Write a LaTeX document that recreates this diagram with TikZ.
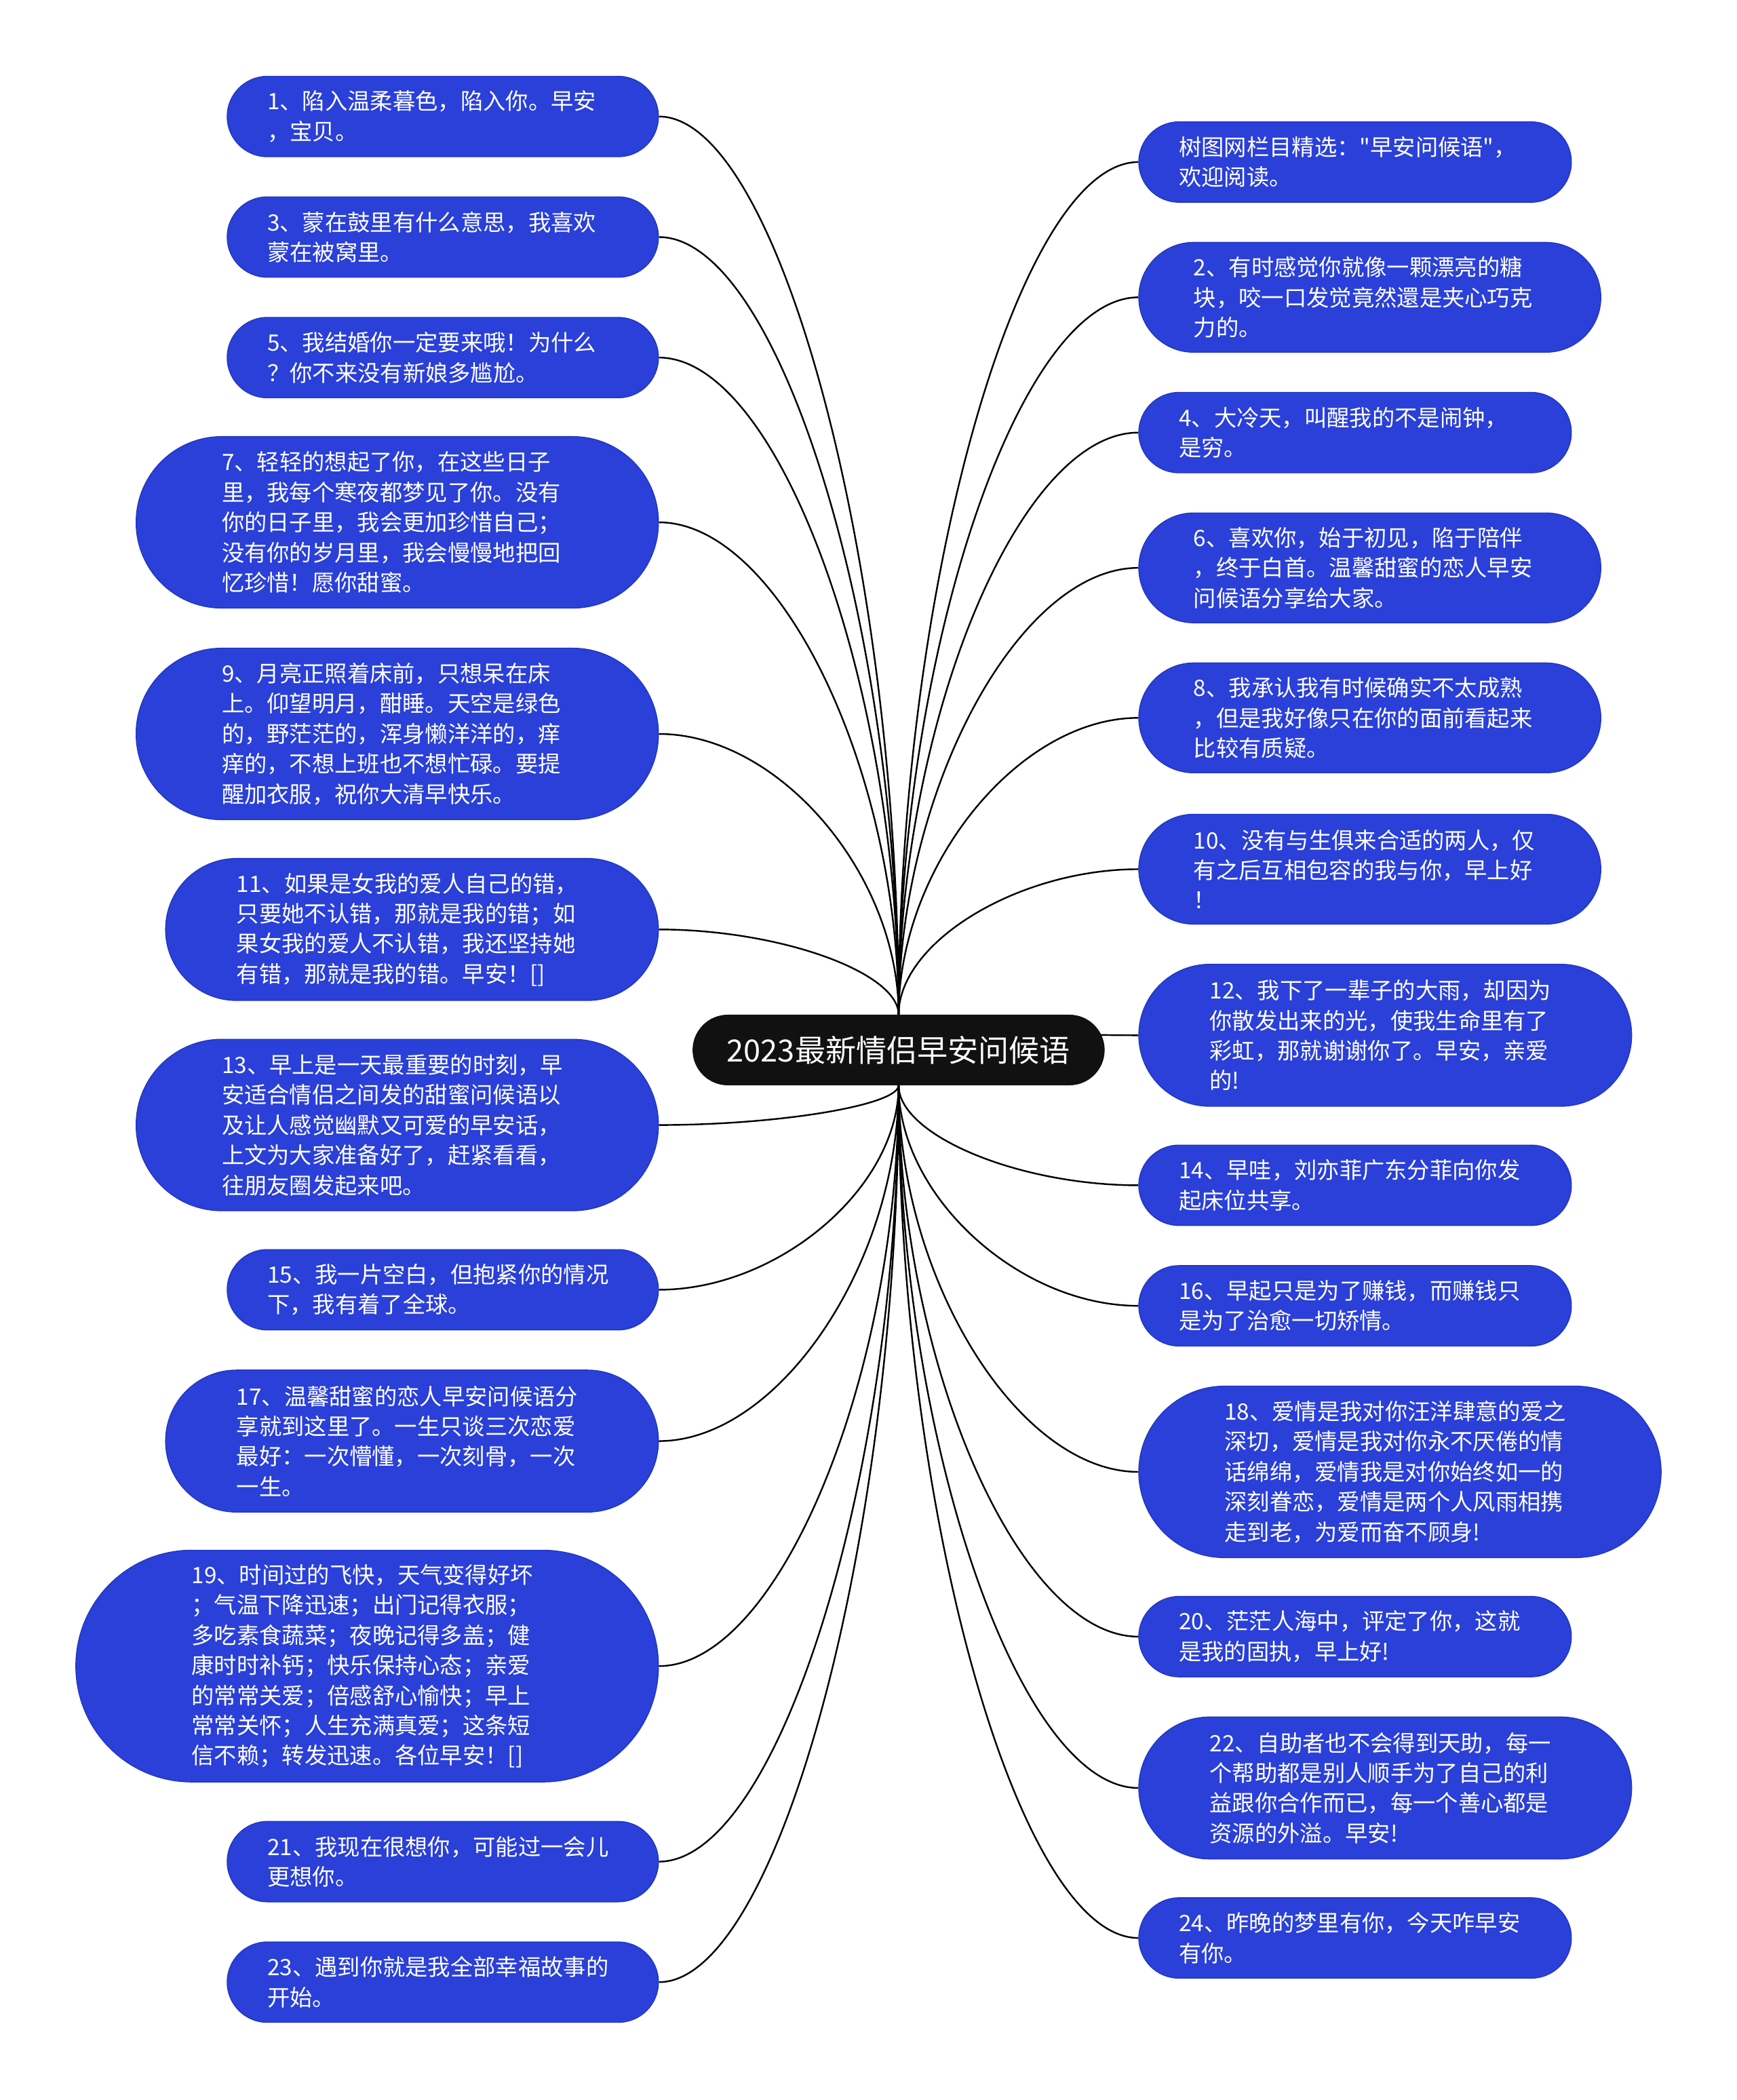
\documentclass[tikz,border=0pt]{standalone}
\usepackage{fontspec}
\usepackage{xcolor}
\usetikzlibrary{backgrounds,calc}
\newfontfamily\cjk{Noto Sans CJK SC}
\definecolor{msgblue}{HTML}{2A40D8}
\definecolor{msgedge}{HTML}{2035C4}
\definecolor{topicblack}{HTML}{111111}
\newcommand{\msgfont}{\cjk\fontsize{9.6}{12.8}\selectfont}
\newcommand{\topicfont}{\cjk\fontsize{13}{15}\selectfont}

\tikzset{
  msg/.style 2 args={fill=msgblue, draw=msgedge, line width=0.4pt, text=white,
    align=left, inner ysep=0pt, inner xsep=#2*0.01cm, font=\msgfont,
    text width=(#1-#2)*0.02cm,
    minimum width=#1*0.02cm, minimum height=#2*0.02cm, rounded corners=#2*0.01cm},
  topic/.style={fill=topicblack, draw=topicblack, text=white, inner sep=0pt,
    font=\topicfont, minimum width=307*0.02cm, minimum height=52*0.02cm,
    rounded corners=26*0.02cm},
  link/.style={draw=black, line width=0.7pt}
}

\begin{document}
\begin{tikzpicture}[x=0.02cm,y=-0.02cm]
\useasboundingbox (0,0) rectangle (1297,1568);
% Central topic
\node[topic] (root) at (671,784) {2023最新情侣早安问候语};
% Left column
\node[msg={322}{60}, anchor=east] (l1) at (492,87) {1、陷入温柔暮色，陷入你。早安\\，宝贝。};
\node[msg={322}{60}, anchor=east] (l3) at (492,177) {3、蒙在鼓里有什么意思，我喜欢\\蒙在被窝里。};
\node[msg={322}{60}, anchor=east] (l5) at (492,267) {5、我结婚你一定要来哦！为什么\\？你不来没有新娘多尴尬。};
\node[msg={390}{128}, anchor=east] (l7) at (492,390) {7、轻轻的想起了你，在这些日子\\里，我每个寒夜都梦见了你。没有\\你的日子里，我会更加珍惜自己；\\没有你的岁月里，我会慢慢地把回\\忆珍惜！愿你甜蜜。};
\node[msg={390}{128}, anchor=east] (l9) at (492,548) {9、月亮正照着床前，只想呆在床\\上。仰望明月，酣睡。天空是绿色\\的，野茫茫的，浑身懒洋洋的，痒\\痒的，不想上班也不想忙碌。要提\\醒加衣服，祝你大清早快乐。};
\node[msg={368}{106}, anchor=east] (l11) at (492,694) {11、如果是女我的爱人自己的错，\\只要她不认错，那就是我的错；如\\果女我的爱人不认错，我还坚持她\\有错，那就是我的错。早安！[]};
\node[msg={390}{128}, anchor=east] (l13) at (492,840) {13、早上是一天最重要的时刻，早\\安适合情侣之间发的甜蜜问候语以\\及让人感觉幽默又可爱的早安话，\\上文为大家准备好了，赶紧看看，\\往朋友圈发起来吧。};
\node[msg={322}{60}, anchor=east] (l15) at (492,963) {15、我一片空白，但抱紧你的情况\\下，我有着了全球。};
\node[msg={368}{106}, anchor=east] (l17) at (492,1076) {17、温馨甜蜜的恋人早安问候语分\\享就到这里了。一生只谈三次恋爱\\最好：一次懵懂，一次刻骨，一次\\一生。};
\node[msg={435}{173}, anchor=east] (l19) at (492,1244) {19、时间过的飞快，天气变得好坏\\；气温下降迅速；出门记得衣服；\\多吃素食蔬菜；夜晚记得多盖；健\\康时时补钙；快乐保持心态；亲爱\\的常常关爱；倍感舒心愉快；早上\\常常关怀；人生充满真爱；这条短\\信不赖；转发迅速。各位早安！[]};
\node[msg={322}{60}, anchor=east] (l21) at (492,1390) {21、我现在很想你，可能过一会儿\\更想你。};
\node[msg={322}{60}, anchor=east] (l23) at (492,1480) {23、遇到你就是我全部幸福故事的\\开始。};
% Right column
\node[msg={323}{60}, anchor=west] (r0) at (850,121) {树图网栏目精选："早安问候语"，\\欢迎阅读。};
\node[msg={345}{82}, anchor=west] (r2) at (850,222) {2、有时感觉你就像一颗漂亮的糖\\块，咬一口发觉竟然還是夹心巧克\\力的。};
\node[msg={323}{60}, anchor=west] (r4) at (850,323) {4、大冷天，叫醒我的不是闹钟，\\是穷。};
\node[msg={345}{82}, anchor=west] (r6) at (850,424) {6、喜欢你，始于初见，陷于陪伴\\，终于白首。温馨甜蜜的恋人早安\\问候语分享给大家。};
\node[msg={345}{82}, anchor=west] (r8) at (850,536) {8、我承认我有时候确实不太成熟\\，但是我好像只在你的面前看起来\\比较有质疑。};
\node[msg={345}{82}, anchor=west] (r10) at (850,649) {10、没有与生俱来合适的两人，仅\\有之后互相包容的我与你，早上好\\！};
\node[msg={368}{106}, anchor=west] (r12) at (850,773) {12、我下了一辈子的大雨，却因为\\你散发出来的光，使我生命里有了\\彩虹，那就谢谢你了。早安，亲爱\\的!};
\node[msg={323}{60}, anchor=west] (r14) at (850,885) {14、早哇，刘亦菲广东分菲向你发\\起床位共享。};
\node[msg={323}{60}, anchor=west] (r16) at (850,975) {16、早起只是为了赚钱，而赚钱只\\是为了治愈一切矫情。};
\node[msg={390}{128}, anchor=west] (r18) at (850,1099) {18、爱情是我对你汪洋肆意的爱之\\深切，爱情是我对你永不厌倦的情\\话绵绵，爱情我是对你始终如一的\\深刻眷恋，爱情是两个人风雨相携\\走到老，为爱而奋不顾身!};
\node[msg={323}{60}, anchor=west] (r20) at (850,1222) {20、茫茫人海中，评定了你，这就\\是我的固执，早上好!};
\node[msg={368}{106}, anchor=west] (r22) at (850,1335) {22、自助者也不会得到天助，每一\\个帮助都是别人顺手为了自己的利\\益跟你合作而已，每一个善心都是\\资源的外溢。早安!};
\node[msg={323}{60}, anchor=west] (r24) at (850,1447) {24、昨晚的梦里有你，今天咋早安\\有你。};
% Curved links from the top and bottom of the topic, kept behind the nodes
\begin{pgfonlayer}{background}
\fill[white] (0,0) rectangle (1297,1568);
\foreach \n in {l1,l3,l5,l7,l9,l11}
  \draw[link] (root.north) .. controls ($(root.north)!.5!(root.north |- \n.east)$) and ($(\n.east)!.5!(root.north |- \n.east)$) .. (\n.east);
\foreach \n in {l13,l15,l17,l19,l21,l23}
  \draw[link] (root.south) .. controls ($(root.south)!.5!(root.south |- \n.east)$) and ($(\n.east)!.5!(root.south |- \n.east)$) .. (\n.east);
\foreach \n in {r0,r2,r4,r6,r8,r10,r12}
  \draw[link] (root.north) .. controls ($(root.north)!.5!(root.north |- \n.west)$) and ($(\n.west)!.5!(root.north |- \n.west)$) .. (\n.west);
\foreach \n in {r14,r16,r18,r20,r22,r24}
  \draw[link] (root.south) .. controls ($(root.south)!.5!(root.south |- \n.west)$) and ($(\n.west)!.5!(root.south |- \n.west)$) .. (\n.west);
\end{pgfonlayer}
\end{tikzpicture}
\end{document}
